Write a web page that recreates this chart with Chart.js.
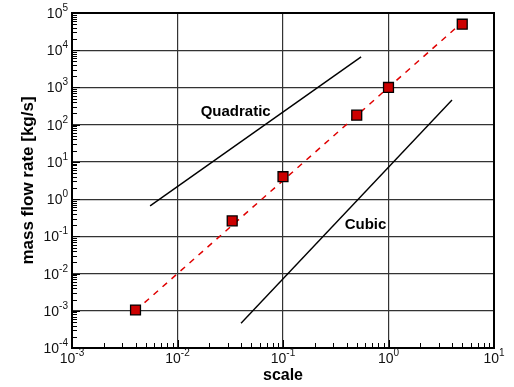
<!DOCTYPE html>
<html>
<head>
<meta charset="utf-8">
<script src="https://cdn.jsdelivr.net/npm/chart.js@4.4.1/dist/chart.umd.min.js"></script>
<style>
  html, body { margin: 0; padding: 0; background: #fff; }
  #plot { display: block; }
</style>
</head>
<body>
<canvas id="plot" width="514" height="387"></canvas>
<script>
// measured mass flow rate vs. scale
const scaleValues = [0.004, 0.033, 0.1, 0.5, 1, 5];
const flowValues = [1.05e-3, 0.26, 4, 180, 1000, 5e4];

// dashed power-law fit through the measurements
const fitScale = [0.004, 5];
const fitFlow = [1.01e-3, 5.59e4];

// reference slopes
const quadScale = [0.0055, 0.55];
const quadFlow = [0.66, 6600];
const cubicScale = [0.04, 4];
const cubicFlow = [4.6e-4, 460];

// decade tick labels (10^n)
const xTickExponents = [-3, -2, -1, 0, 1];
const yTickExponents = [-4, -3, -2, -1, 0, 1, 2, 3, 4, 5];

// slope labels, placed in data coordinates
const noteTexts = ["Quadratic", "Cubic"];
const noteScale = [0.0356, 0.605];
const noteFlow = [220, 0.2];

const FONT = "'Liberation Sans', Arial, Helvetica, sans-serif";

function toPoints(xs, ys) {
  return xs.map((x, i) => ({ x: x, y: ys[i] }));
}

function decades(exps) {
  return exps.map(e => ({ value: Math.pow(10, e), major: true }));
}

// width of a "10^n" label
function powerWidth(ctx, exp) {
  ctx.font = "14px " + FONT;
  const wb = ctx.measureText("10").width;
  ctx.font = "10px " + FONT;
  return wb + ctx.measureText(String(exp)).width;
}

// draws "10" with a raised exponent
function drawPower(ctx, exp, x, y, align) {
  const total = powerWidth(ctx, exp);
  const x0 = align === "right" ? x - total : x - total / 2;
  ctx.textAlign = "left";
  ctx.textBaseline = "alphabetic";
  ctx.fillStyle = "#111";
  ctx.font = "14px " + FONT;
  const wb = ctx.measureText("10").width;
  ctx.fillText("10", x0, y);
  ctx.font = "10px " + FONT;
  ctx.fillText(String(exp), x0 + wb, y - 7);
}

const frameAndLabels = {
  id: "frameAndLabels",
  afterDraw(chart) {
    const ctx = chart.ctx;
    const a = chart.chartArea;
    const xs = chart.scales.x;
    const ys = chart.scales.y;
    ctx.save();

    // plot frame
    ctx.strokeStyle = "#000";
    ctx.lineWidth = 2;
    ctx.strokeRect(a.left, a.top, a.right - a.left, a.bottom - a.top);

    // inward ticks on left and bottom axes
    ctx.lineWidth = 1;
    ctx.beginPath();
    for (let i = 0; i < yTickExponents.length; i++) {
      const e = yTickExponents[i];
      const py = Math.round(ys.getPixelForValue(Math.pow(10, e))) + 0.5;
      ctx.moveTo(a.left, py); ctx.lineTo(a.left + 8, py);
      if (i < yTickExponents.length - 1) {
        for (let k = 2; k <= 9; k++) {
          const my = Math.round(ys.getPixelForValue(k * Math.pow(10, e))) + 0.5;
          ctx.moveTo(a.left, my); ctx.lineTo(a.left + 5, my);
        }
      }
    }
    for (let i = 0; i < xTickExponents.length; i++) {
      const e = xTickExponents[i];
      const px = Math.round(xs.getPixelForValue(Math.pow(10, e))) + 0.5;
      ctx.moveTo(px, a.bottom); ctx.lineTo(px, a.bottom - 8);
      if (i < xTickExponents.length - 1) {
        for (let k = 2; k <= 9; k++) {
          const mx = Math.round(xs.getPixelForValue(k * Math.pow(10, e))) + 0.5;
          ctx.moveTo(mx, a.bottom); ctx.lineTo(mx, a.bottom - 5);
        }
      }
    }
    ctx.stroke();

    // y tick labels
    yTickExponents.forEach(e => {
      const py = ys.getPixelForValue(Math.pow(10, e));
      drawPower(ctx, e, a.left - 4, py + 5, "right");
    });

    // x tick labels sit on a white box that cuts the axis line
    xTickExponents.forEach(e => {
      const px = xs.getPixelForValue(Math.pow(10, e));
      const total = powerWidth(ctx, e);
      ctx.fillStyle = "#fff";
      ctx.fillRect(px - total / 2 - 1, a.bottom + 1, total + 2, 16);
      drawPower(ctx, e, px, a.bottom + 15, "center");
    });

    // axis titles
    ctx.fillStyle = "#000";
    ctx.textAlign = "center";
    ctx.textBaseline = "alphabetic";
    ctx.font = "bold 16px " + FONT;
    ctx.fillText("scale", (a.left + a.right) / 2, 380);

    ctx.save();
    ctx.font = "bold 17px " + FONT;
    ctx.translate(33, (a.top + a.bottom) / 2);
    ctx.rotate(-Math.PI / 2);
    ctx.fillText("mass flow rate [kg/s]", 0, 0);
    ctx.restore();

    // slope labels
    ctx.font = "bold 15px " + FONT;
    ctx.textBaseline = "middle";
    noteTexts.forEach((t, i) => {
      ctx.fillText(t, xs.getPixelForValue(noteScale[i]), ys.getPixelForValue(noteFlow[i]));
    });

    ctx.restore();
  }
};

new Chart(document.getElementById("plot"), {
  type: "scatter",
  data: {
    datasets: [
      {
        label: "measured",
        data: toPoints(scaleValues, flowValues),
        pointStyle: "rect",
        pointRadius: 7,
        pointBackgroundColor: "#cc0000",
        pointBorderColor: "#000",
        pointBorderWidth: 1.3,
        showLine: false
      },
      {
        label: "fit",
        data: toPoints(fitScale, fitFlow),
        showLine: true,
        borderColor: "#e00000",
        borderWidth: 1.5,
        borderDash: [6, 6],
        pointRadius: 0
      },
      {
        label: "Quadratic",
        data: toPoints(quadScale, quadFlow),
        showLine: true,
        borderColor: "#000",
        borderWidth: 1.4,
        pointRadius: 0
      },
      {
        label: "Cubic",
        data: toPoints(cubicScale, cubicFlow),
        showLine: true,
        borderColor: "#000",
        borderWidth: 1.4,
        pointRadius: 0
      }
    ]
  },
  options: {
    responsive: false,
    animation: false,
    layout: { padding: { left: 72, right: 20, top: 13, bottom: 39 } },
    plugins: { legend: { display: false }, tooltip: { enabled: false } },
    scales: {
      x: {
        type: "logarithmic",
        min: 1e-3,
        max: 10,
        border: { display: false },
        grid: { color: "#333", lineWidth: 1.2, drawTicks: false },
        ticks: { display: false },
        afterBuildTicks: s => { s.ticks = decades(xTickExponents); }
      },
      y: {
        type: "logarithmic",
        min: 1e-4,
        max: 1e5,
        border: { display: false },
        grid: { color: "#333", lineWidth: 1.2, drawTicks: false },
        ticks: { display: false },
        afterBuildTicks: s => { s.ticks = decades(yTickExponents); }
      }
    }
  },
  plugins: [frameAndLabels]
});
</script>
</body>
</html>
